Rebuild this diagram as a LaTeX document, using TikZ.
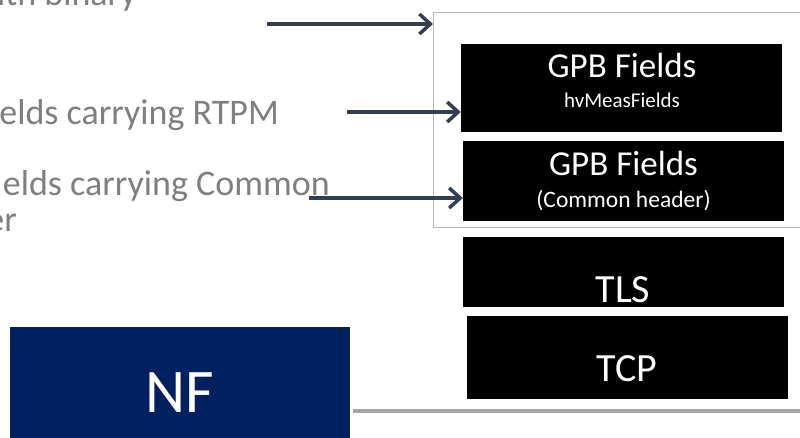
\documentclass[tikz,border=0pt]{standalone}
\usepackage{fontspec}
\setmainfont{Carlito}
\usepackage{xcolor}
\usetikzlibrary{arrows.meta,positioning}
\definecolor{navyNF}{HTML}{002060}
\definecolor{arrowslate}{HTML}{333F50}
\definecolor{notegray}{HTML}{7F7F7F}
\definecolor{framegray}{HTML}{A6A6A6}
\newcommand{\pxfont}[1]{\fontsize{#1}{#1}\selectfont}

\begin{document}
\begin{tikzpicture}[x=1pt,y=-1pt,
    layer/.style={fill=black,inner sep=0pt},
    layertext/.style={text=white,inner sep=0pt,anchor=base},
    note/.style={text=notegray,inner sep=0pt,anchor=base east,font=\pxfont{36}},
    feed/.style={-{Straight Barb[length=11pt,width=20pt]},line width=3.5pt,draw=arrowslate}]
    \useasboundingbox (0,0) rectangle (800,437);
    \clip (0,0) rectangle (800,437);

    % Notes (cut at the left edge)
    \node[note] (binary) at (137,5) {ith binary};
    \node[note] (rtpm) at (279,124) {elds carrying RTPM};
    \node[note] (common) at (330,195) {elds carrying Common};
    \node[note] (header) at (17,231) {er};

    % GPB frame
    \node[draw=framegray!80,line width=1.3pt,inner sep=0pt,anchor=north west,
          minimum width=380,minimum height=215] (frame) at (433,12) {};

    % Protocol layers
    \node[layer,minimum width=321,minimum height=88] (meas) at (621.5,88) {};
    \node[layertext,font=\pxfont{35}] (meastitle) at (622,77) {GPB Fields};
    \node[layertext,font=\pxfont{21}] (meassub) at (622,107) {hvMeasFields};

    \node[layer,minimum width=321,minimum height=80] (hdr) at (623.5,181) {};
    \node[layertext,font=\pxfont{35}] (hdrtitle) at (623.5,175) {GPB Fields};
    \node[layertext,font=\pxfont{23.5}] (hdrsub) at (623.5,207) {(Common header)};

    \node[layer,minimum width=321,minimum height=70] (tls) at (623.5,272) {};
    \node[layertext,font=\pxfont{40}] (tlstext) at (623,302) {TLS};

    \node[layer,minimum width=321,minimum height=83] (tcp) at (627.5,357.5) {};
    \node[layertext,font=\pxfont{40}] (tcptext) at (627,381) {TCP};

    % NF
    \node[fill=navyNF,inner sep=0pt,minimum width=340,minimum height=130] (nf) at (180,392) {};
    \node[layertext,font=\pxfont{62}] (nftext) at (180,412) {NF};

    % Arrows into the stack
    \coordinate (binarytail) at (267,24);
    \coordinate (rtpmtail) at (347,112);
    \coordinate (commontail) at (309,198);
    \draw[feed] (binarytail) -- (frame.west |- binarytail);
    \draw[feed] (rtpmtail) -- (meas.west |- rtpmtail);
    \draw[feed] (commontail) -- (hdr.west |- commontail);

    % Link from NF
    \coordinate (linkend) at (805,411);
    \draw[framegray,line width=3.5pt] ([xshift=3pt]nf.east |- linkend) -- (linkend);
\end{tikzpicture}
\end{document}
